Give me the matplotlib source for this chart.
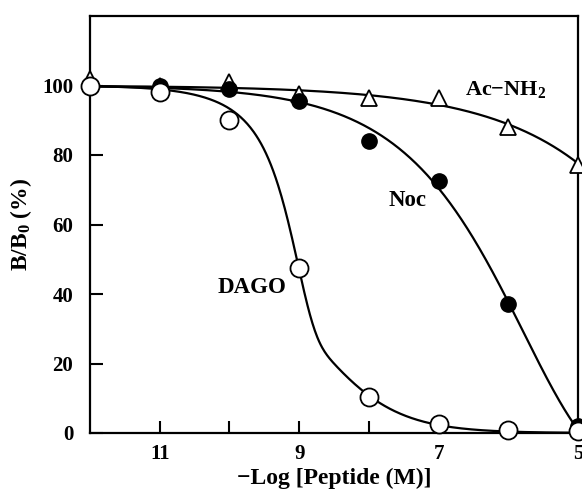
import numpy as np
import matplotlib
matplotlib.use("Agg")
import matplotlib.pyplot as plt

plt.rcParams['font.family'] = ['Liberation Serif', 'DejaVu Serif']
plt.rcParams['font.weight'] = 'bold'
plt.rcParams['mathtext.fontset'] = 'custom'
plt.rcParams['mathtext.rm'] = 'Liberation Serif:bold'
plt.rcParams['mathtext.bf'] = 'Liberation Serif:bold'
plt.rcParams['mathtext.it'] = 'Liberation Serif:bold'

# -log concentration
x_vals = [12, 11, 10, 9, 8, 7, 6, 5]
dago = [100, 98, 90, 47.5, 10.5, 2.5, 1.0, 0.5]
noc = [100, 100, 99, 95.5, 84, 72.5, 37, 2]
acnh2 = [102, 100, 101, 97.5, 96.5, 96.5, 88, 77]

# fitted curve parameters
# DAGO: two-component: fraction, x1, n1 (Gompertz part), x2, n2 (logistic part)
dago_fit = [0.477, 9.024, 1.696, 8.778, 0.753]
# Noc, Ac-NH2: Gompertz with bottom, x0, slope
noc_fit = [-12.26, 5.783, 0.423]
acnh2_fit = [-11880.8, -4.014, 0.3026]

x_ticks = [11, 10, 9, 8, 7, 6, 5]
x_ticklabels = ['11', '', '9', '', '7', '', '5']
y_ticks = [0, 20, 40, 60, 80, 100]


def gompertz(x, p):
    b, x0, n = p
    return b + (100 - b) * np.exp(-10 ** (n * (x0 - x)))


def two_site(x, p):
    f, x1, n1, x2, n2 = p
    return 100 * (f * np.exp(-10 ** (n1 * (x1 - x)))
                  + (1 - f) / (1 + 10 ** (n2 * (x2 - x))))


fig = plt.figure(figsize=(5.82, 4.92), dpi=100)
ax = fig.add_axes([90 / 582, 1 - 433 / 492, (578 - 90) / 582, (433 - 16) / 492])

xs = np.linspace(12, 5, 600)
ax.plot(xs, gompertz(xs, acnh2_fit), color='black', lw=1.6, zorder=2)
ax.plot(xs, gompertz(xs, noc_fit), color='black', lw=1.6, zorder=2)
ax.plot(xs, two_site(xs, dago_fit), color='black', lw=1.6, zorder=2)

ax.plot(x_vals, acnh2, linestyle='none', marker='^', ms=12, mfc='white',
        mec='black', mew=1.3, clip_on=False, zorder=3)
ax.plot(x_vals, noc, linestyle='none', marker='o', ms=11, mfc='black',
        mec='black', mew=1.0, clip_on=False, zorder=4)
ax.plot(x_vals, dago, linestyle='none', marker='o', ms=13, mfc='white',
        mec='black', mew=1.3, clip_on=False, zorder=5)

ax.set_xlim(12, 5)
ax.set_ylim(0, 120)
ax.set_xticks(x_ticks)
ax.set_xticklabels(x_ticklabels)
ax.set_yticks(y_ticks)

ax.tick_params(direction='in', length=9, width=1.5, labelsize=15)
ax.tick_params(axis='y', pad=12)
ax.tick_params(axis='x', pad=8)
for s in ax.spines.values():
    s.set_linewidth(1.6)

ax.text(6.62, 98.8, 'Ac\u2212NH$_{2}$', fontsize=16, fontweight='bold',
        ha='left', va='center')
ax.text(7.44, 67.0, 'Noc', fontsize=16.5, fontweight='bold', ha='center', va='center')
ax.text(9.68, 41.8, 'DAGO', fontsize=16.5, fontweight='bold', ha='center', va='center')

ax.set_xlabel('\u2212Log [Peptide (M)]', fontsize=17, fontweight='bold', labelpad=3)
ax.set_ylabel('B/B$_{0}$ (%)', fontsize=17, fontweight='bold', labelpad=6)

fig.savefig('out.png', dpi=100)
